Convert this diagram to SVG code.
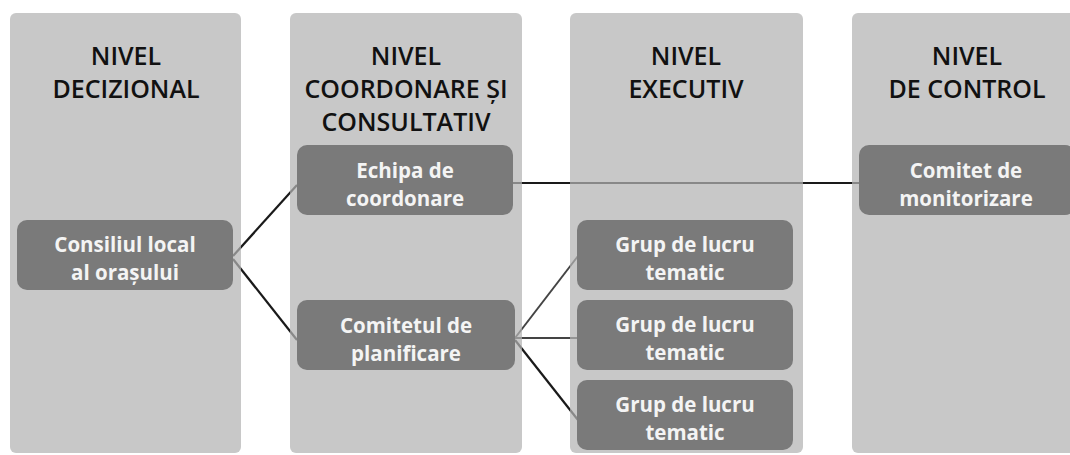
<svg xmlns="http://www.w3.org/2000/svg" width="1070" height="455" viewBox="0 0 1070 455">
<style>
.bg{fill:#ffffff}
.panel{fill:#b3b3b3;fill-opacity:0.72}
.node{fill:#7a7a7a}
.hdr{font-family:"Open Sans","Liberation Sans",sans-serif;font-size:25px;font-weight:600;fill:#111;text-anchor:middle}
.lbl{font-family:"Open Sans","Liberation Sans",sans-serif;font-size:20.5px;font-weight:700;fill:#f4f4f4;text-anchor:middle}
.con{stroke:#1a1a1a;stroke-width:2.2;fill:none}
.con2{stroke:#444;stroke-width:2;fill:none}
</style>
<rect class="bg" x="0" y="0" width="1070" height="455"/>
<g id="connectors">
<line class="con" x1="233" y1="256" x2="297" y2="185"/>
<line class="con" x1="233" y1="259" x2="297" y2="340"/>
<line class="con" x1="513" y1="183" x2="860" y2="183"/>
<line class="con2" x1="515" y1="338" x2="578" y2="256"/>
<line class="con2" x1="515" y1="338" x2="578" y2="338"/>
<line class="con" x1="515" y1="340" x2="578" y2="420"/>
</g>
<g id="panel-decizional">
<rect class="panel" x="10" y="13" width="231" height="440" rx="6"/>
<text class="hdr" x="126" y="65">NIVEL</text>
<text class="hdr" x="126" y="98">DECIZIONAL</text>
</g>
<g id="panel-coordonare">
<rect class="panel" x="290" y="13" width="232" height="440" rx="6"/>
<text class="hdr" x="406" y="65">NIVEL</text>
<text class="hdr" x="406" y="98">COORDONARE ȘI</text>
<text class="hdr" x="406" y="131">CONSULTATIV</text>
</g>
<g id="panel-executiv">
<rect class="panel" x="570" y="13" width="233" height="440" rx="6"/>
<text class="hdr" x="686" y="65">NIVEL</text>
<text class="hdr" x="686" y="98">EXECUTIV</text>
</g>
<g id="panel-control">
<rect class="panel" x="852" y="13" width="232" height="440" rx="6"/>
<text class="hdr" x="967" y="65">NIVEL</text>
<text class="hdr" x="967" y="98">DE CONTROL</text>
</g>
<g id="node-consiliul">
<rect class="node" x="17" y="220" width="216" height="70" rx="10"/>
<text class="lbl" x="125" y="252">Consiliul local</text>
<text class="lbl" x="125" y="280">al orașului</text>
</g>
<g id="node-echipa">
<rect class="node" x="297" y="145" width="216" height="70" rx="10"/>
<text class="lbl" x="405" y="178">Echipa de</text>
<text class="lbl" x="405" y="206">coordonare</text>
</g>
<g id="node-comitetul">
<rect class="node" x="297" y="300" width="218" height="70" rx="10"/>
<text class="lbl" x="406" y="333">Comitetul de</text>
<text class="lbl" x="406" y="361">planificare</text>
</g>
<g id="node-grup1">
<rect class="node" x="577" y="220" width="216" height="70" rx="10"/>
<text class="lbl" x="685" y="252">Grup de lucru</text>
<text class="lbl" x="685" y="280">tematic</text>
</g>
<g id="node-grup2">
<rect class="node" x="577" y="300" width="216" height="70" rx="10"/>
<text class="lbl" x="685" y="332">Grup de lucru</text>
<text class="lbl" x="685" y="360">tematic</text>
</g>
<g id="node-grup3">
<rect class="node" x="577" y="380" width="216" height="70" rx="10"/>
<text class="lbl" x="685" y="412">Grup de lucru</text>
<text class="lbl" x="685" y="440">tematic</text>
</g>
<g id="node-monitorizare">
<rect class="node" x="859" y="145" width="216" height="70" rx="10"/>
<text class="lbl" x="966" y="178">Comitet de</text>
<text class="lbl" x="966" y="206">monitorizare</text>
</g>
</svg>
